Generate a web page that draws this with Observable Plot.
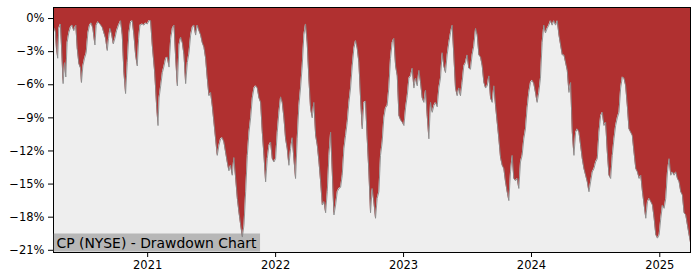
<!DOCTYPE html>
<html><head><meta charset="utf-8">
<script src="https://cdn.jsdelivr.net/npm/d3@7"></script>
<script src="https://cdn.jsdelivr.net/npm/@observablehq/plot@0.6"></script>
<style>body{margin:0;background:#fff}</style>
</head><body><div id="chart"></div>
<script>
// Decimal-year dates and drawdown (%)
const years = [
2020.266,2020.273,2020.281,2020.289,2020.299,2020.307,2020.320,2020.331,2020.341,2020.352,2020.362,2020.372,2020.385,2020.398,2020.411,2020.424,2020.440,2020.451,2020.464,2020.477,2020.484,2020.495,2020.508,2020.521,2020.534,2020.547,2020.560,2020.573,2020.589,2020.599,2020.612,2020.628,2020.646,2020.659,2020.672,2020.685,2020.695,2020.706,2020.719,2020.732,2020.745,2020.758,2020.773,2020.789,2020.802,2020.815,2020.828,2020.841,2020.854,2020.867,2020.880,2020.893,2020.906,2020.919,2020.930,2020.940,2020.958,2020.971,2020.984,2020.997,2021.010,2021.023,2021.036,2021.055,2021.070,2021.081,
2021.089,2021.102,2021.115,2021.128,2021.141,2021.154,2021.167,2021.180,2021.193,2021.206,2021.219,2021.232,2021.245,2021.258,2021.271,2021.284,2021.297,2021.310,2021.323,2021.336,2021.349,2021.362,2021.375,2021.388,2021.401,2021.414,2021.427,2021.440,2021.453,2021.466,2021.479,2021.492,2021.505,2021.518,2021.531,2021.544,2021.557,2021.570,2021.583,2021.596,2021.609,2021.622,2021.635,2021.648,2021.661,2021.674,2021.688,2021.701,2021.714,2021.727,2021.740,2021.753,2021.766,2021.779,2021.792,2021.805,2021.818,2021.831,2021.844,2021.857,2021.870,2021.883,
2021.896,2021.909,2021.922,2021.935,2021.948,2021.961,2021.974,2021.987,2022.000,2022.013,2022.026,2022.039,2022.052,2022.065,2022.078,2022.091,2022.104,2022.117,2022.130,2022.143,2022.156,2022.169,2022.182,2022.195,2022.208,2022.221,2022.234,2022.247,2022.260,2022.273,2022.286,2022.299,2022.313,2022.326,2022.339,2022.352,2022.365,2022.378,2022.391,2022.404,2022.417,2022.430,2022.443,2022.456,2022.469,2022.482,2022.495,2022.508,2022.521,2022.534,2022.547,2022.560,2022.573,2022.586,2022.599,2022.612,2022.625,2022.638,2022.651,2022.664,2022.677,2022.690,2022.703,
2022.716,2022.729,2022.742,2022.755,2022.768,2022.781,2022.794,2022.807,2022.820,2022.833,2022.846,2022.859,2022.872,2022.885,2022.898,2022.911,2022.924,2022.938,2022.951,2022.964,2022.977,2022.990,2023.003,2023.016,2023.029,2023.042,2023.055,2023.068,2023.081,2023.094,2023.107,2023.120,2023.133,2023.146,2023.159,2023.172,2023.185,2023.198,2023.211,2023.224,2023.237,2023.250,2023.263,2023.276,2023.289,2023.302,2023.315,2023.328,2023.341,2023.354,2023.367,2023.380,2023.393,2023.406,2023.419,2023.432,2023.445,2023.458,2023.471,2023.484,2023.497,2023.510,2023.523,2023.536,2023.549,
2023.563,2023.576,2023.589,2023.602,2023.615,2023.628,2023.641,2023.654,2023.667,2023.680,2023.693,2023.706,2023.719,2023.732,2023.745,2023.758,2023.771,2023.784,2023.797,2023.810,2023.823,2023.836,2023.849,2023.862,2023.875,2023.888,2023.901,2023.914,2023.927,2023.940,2023.953,2023.966,2023.979,2023.992,2024.005,2024.018,2024.031,2024.044,2024.057,2024.070,2024.083,2024.096,2024.109,2024.122,2024.135,2024.148,2024.161,2024.174,2024.188,2024.201,2024.214,2024.227,2024.240,2024.253,2024.266,2024.279,2024.292,2024.305,2024.318,2024.331,2024.344,2024.357,2024.370,
2024.383,2024.396,2024.409,2024.422,2024.435,2024.448,2024.461,2024.474,2024.487,2024.500,2024.513,2024.526,2024.539,2024.552,2024.565,2024.578,2024.591,2024.604,2024.617,2024.630,2024.643,2024.656,2024.669,2024.682,2024.695,2024.708,2024.721,2024.734,2024.747,2024.760,2024.773,2024.786,2024.799,2024.813,2024.826,2024.839,2024.852,2024.865,2024.878,2024.891,2024.904,2024.917,2024.930,2024.943,2024.956,2024.969,2024.982,2024.995,2025.008,2025.021,2025.034,2025.047,2025.060,2025.073,2025.086,2025.099,2025.112,2025.125,2025.138,2025.151,2025.164,2025.177,2025.190,2025.203,2025.216,2025.229,2025.240
];
const drawdownPct = [
-0.8,-0.9,-1.2,-2.7,-3.6,-0.9,-0.5,-3.1,-5.9,-4.0,-5.3,-2.2,-1.3,-0.8,-0.6,-1.1,-0.6,-2.7,-4.1,-4.5,-5.8,-4.3,-3.6,-3.1,-1.3,-0.6,-0.4,-0.9,-2.4,-0.6,-0.3,-0.5,-0.8,-1.3,-1.8,-2.9,-1.8,-0.9,-1.4,-2.3,-1.8,-1.1,-0.6,-0.2,-1.5,-4.9,-6.8,-4.0,-1.3,-0.3,-0.2,-1.5,-3.3,-4.3,-1.8,-0.6,-0.5,-0.6,-0.4,-0.5,-0.2,-0.2,-2.4,-4.9,-7.9,-9.7,
-7.2,-6.1,-4.9,-4.3,-3.6,-3.5,-4.4,-1.8,-0.9,-0.6,-3.6,-6.1,-2.4,-1.7,-2.2,-3.3,-5.9,-4.0,-3.1,-1.5,-0.8,-0.6,-1.5,-0.6,-1.1,-1.5,-2.2,-2.6,-3.6,-5.4,-7.0,-6.7,-7.9,-9.4,-10.9,-12.4,-11.5,-10.9,-10.8,-11.2,-12.1,-13.0,-13.8,-13.3,-14.2,-12.6,-14.5,-16.3,-17.6,-18.7,-19.8,-18.7,-15.7,-12.4,-10.3,-9.0,-7.2,-6.3,-6.1,-6.3,-7.2,-7.6,
-10.3,-12.4,-14.8,-12.7,-11.5,-11.2,-12.7,-13.0,-12.7,-10.3,-8.5,-7.1,-7.6,-9.0,-10.9,-11.8,-13.3,-11.8,-10.8,-12.7,-14.5,-10.9,-7.9,-6.3,-4.3,-1.5,-0.5,-2.2,-5.4,-8.1,-9.0,-7.6,-10.6,-11.5,-13.0,-14.8,-16.9,-16.6,-17.6,-15.7,-12.4,-10.3,-13.9,-17.8,-16.9,-15.7,-15.4,-15.3,-14.2,-11.8,-10.6,-9.4,-7.6,-6.3,-4.3,-2.7,-2.0,-2.7,-4.0,-7.2,-10.0,-7.6,-7.5,
-10.9,-13.9,-17.6,-15.4,-16.6,-18.1,-16.3,-15.7,-12.4,-11.2,-9.0,-8.1,-7.9,-6.3,-3.6,-2.2,-1.8,-4.3,-5.2,-8.8,-9.2,-9.4,-9.7,-8.1,-7.0,-5.4,-5.2,-4.5,-6.3,-5.4,-6.1,-4.7,-5.8,-7.2,-7.6,-6.5,-8.8,-10.9,-7.6,-8.5,-7.9,-7.6,-8.0,-6.3,-5.4,-3.1,-4.3,-4.9,-3.3,-2.2,-1.3,-0.6,-3.3,-6.3,-7.0,-6.3,-7.0,-5.8,-4.3,-4.0,-3.3,-4.5,-4.6,-3.3,-2.5,
-0.9,-1.5,-3.3,-3.5,-4.3,-5.8,-6.3,-6.1,-5.2,-7.2,-7.6,-6.1,-7.9,-9.4,-10.9,-12.6,-13.3,-13.6,-14.8,-15.7,-16.5,-13.9,-12.4,-14.5,-14.7,-14.5,-15.4,-13.0,-12.4,-10.9,-10.0,-8.1,-6.7,-5.8,-5.6,-5.9,-6.7,-7.6,-6.7,-5.4,-2.2,-0.6,-1.3,-0.9,-0.6,-0.2,-0.6,-0.2,-0.6,-0.2,-1.5,-2.4,-3.3,-3.3,-4.0,-4.7,-6.7,-5.8,-10.3,-12.4,-10.3,-10.0,-10.3,
-11.5,-12.7,-13.6,-14.2,-14.8,-15.7,-14.8,-13.9,-13.6,-13.0,-12.7,-10.3,-8.8,-8.5,-9.7,-9.4,-12.1,-14.2,-14.5,-12.4,-10.9,-9.7,-9.0,-8.5,-6.3,-5.3,-5.4,-6.1,-7.9,-10.0,-10.3,-10.6,-12.1,-13.6,-13.9,-14.5,-14.2,-15.7,-16.9,-18.1,-16.6,-16.3,-16.6,-16.9,-18.1,-19.6,-19.9,-19.6,-18.1,-16.9,-17.2,-16.3,-13.9,-12.7,-14.2,-13.9,-14.2,-13.9,-14.5,-14.8,-15.7,-16.0,-17.6,-17.8,-18.7,-19.6,-20.3
];
const yTicks = [0, -3, -6, -9, -12, -15, -18, -21];
const xTickYears = [2021, 2022, 2023, 2024, 2025];
const yDomain = [-21.2, 1.0];
const chartTitle = "CP (NYSE) - Drawdown Chart";

function fromDecimalYear(t) {
  const y = Math.floor(t);
  const a = Date.UTC(y, 0, 1), b = Date.UTC(y + 1, 0, 1);
  return new Date(a + (t - y) * (b - a));
}
const data = years.map((t, i) => ({date: fromDecimalYear(t), dd: drawdownPct[i]}));

const W = 700, H = 280, mL = 53, mR = 10, mT = 7, mB = 28;
const svg = Plot.plot({
  width: W, height: H, marginLeft: mL, marginRight: mR, marginTop: mT, marginBottom: mB,
  style: {fontFamily: "DejaVu Sans", fontSize: "11.5px", color: "black", background: "white"},
  x: {type: "utc", domain: d3.extent(data, d => d.date)},
  y: {domain: yDomain},
  marks: [
    Plot.frame({fill: "#eeeeee", stroke: null}),
    Plot.areaY(data, {x: "date", y1: "dd", y2: yDomain[1], fill: "#b03030"}),
    Plot.line(data, {x: "date", y: "dd", stroke: "#8a8a8a", strokeWidth: 0.9}),
    Plot.frame({stroke: "black", strokeWidth: 1}),
    Plot.axisX({ticks: xTickYears.map(y => new Date(Date.UTC(y, 0, 1))), tickFormat: "%Y", tickSize: 5, tickPadding: 3, label: null}),
    Plot.axisY({ticks: yTicks, tickFormat: d => (d < 0 ? "\u2212" : "") + Math.abs(d) + "%", tickSize: 5, tickPadding: 4, label: null}),
    Plot.text([chartTitle], {frameAnchor: "bottom-left", dx: 3, dy: -5, textAnchor: "start", lineAnchor: "bottom", fontSize: 13.9, fill: "black"})
  ]
});
document.getElementById("chart").appendChild(svg);

// grey box behind the title text
const textEl = [...svg.querySelectorAll("text")].find(t => t.textContent === chartTitle);
if (textEl) {
  const sr = svg.getBoundingClientRect();
  const tr = textEl.getBoundingClientRect();
  const g = textEl.closest("g") || textEl.parentNode;
  const rect = document.createElementNS("http://www.w3.org/2000/svg", "rect");
  const top = tr.top - sr.top - 1;
  rect.setAttribute("x", mL + 0.5);
  rect.setAttribute("y", top);
  rect.setAttribute("width", tr.right - sr.left + 3 - (mL + 0.5));
  rect.setAttribute("height", (H - mB - 0.5) - top);
  rect.setAttribute("fill", "#808080");
  rect.setAttribute("fill-opacity", 0.5);
  g.parentNode.insertBefore(rect, g);
}
</script>
</body></html>
